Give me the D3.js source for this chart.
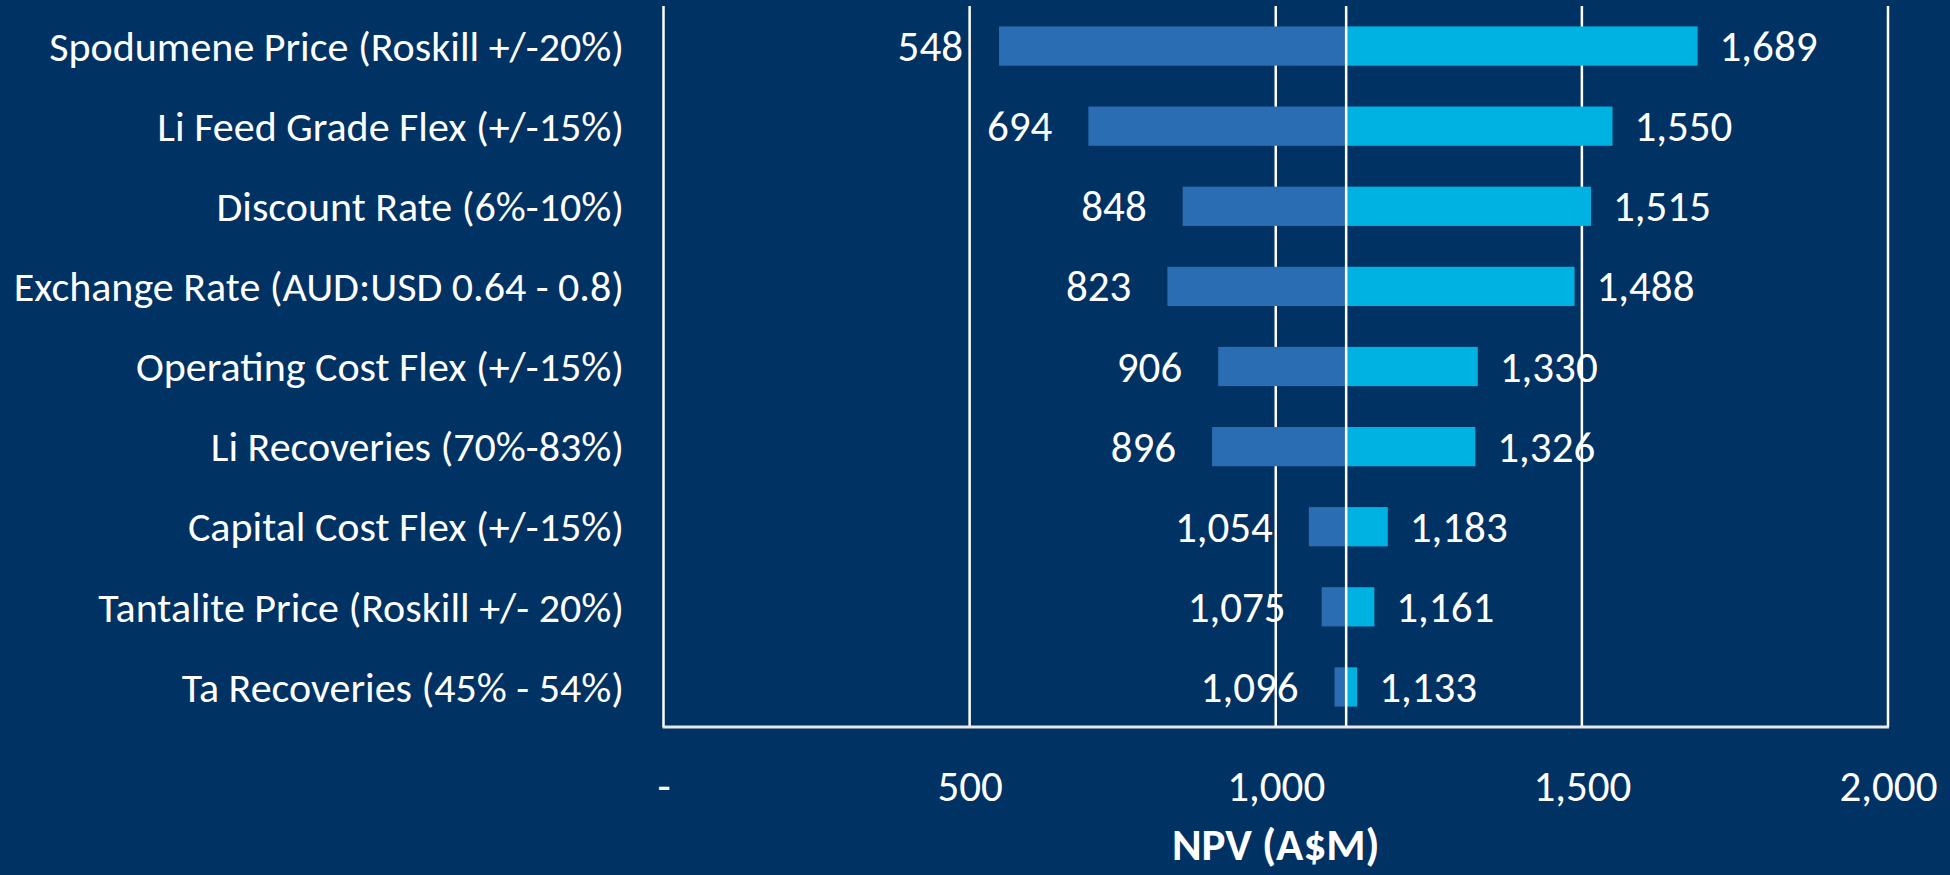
<!DOCTYPE html>
<html>
<head>
<meta charset="utf-8">
<script src="https://cdn.jsdelivr.net/npm/d3@7"></script>
<style>
  html, body { margin: 0; padding: 0; background: #003263; }
  svg { display: block; }
  text { font-family: Carlito, Calibri, "Open Sans", "Noto Sans", sans-serif; fill: #ffffff; }
</style>
</head>
<body>
<svg id="chart" width="1950" height="875"></svg>
<script>
// tornado data, NPV in A$M
var categories = [
    "Spodumene Price (Roskill +/-20%)",
    "Li Feed Grade Flex (+/-15%)",
    "Discount Rate (6%-10%)",
    "Exchange Rate (AUD:USD 0.64 - 0.8)",
    "Operating Cost Flex (+/-15%)",
    "Li Recoveries (70%-83%)",
    "Capital Cost Flex (+/-15%)",
    "Tantalite Price (Roskill +/- 20%)",
    "Ta Recoveries (45% - 54%)"
]
var lowValues = [548, 694, 848, 823, 906, 896, 1054, 1075, 1096]
var highValues = [1689, 1550, 1515, 1488, 1330, 1326, 1183, 1161, 1133]
var baseNPV = 1115
var xTicks = [0, 500, 1000, 1500, 2000]
var axisTitle = "NPV (A$M)"

const chart = {
    width: 1950,
    height: 875,
    margin_top: 6,
    margin_right: 62,
    margin_bottom: 148,
    margin_left: 663.5
}
const colors = { low: "#2A6DB2", high: "#00B2E2", line: "#ffffff" }

var svg = d3.select("#chart")
var plotBottom = chart.height - chart.margin_bottom

var xScale = d3.scaleLinear().domain([0, 2000]).range([chart.margin_left, chart.width - chart.margin_right])
var yScale = d3.scaleBand().domain(categories)
    .range([chart.margin_top, plotBottom])
    .paddingInner(0.51).paddingOuter(0.255)

var fmt = d3.format(",")

// gridlines (behind bars)
svg.append("g").selectAll("line")
    .data(xTicks)
    .join("line")
        .attr("x1", d => xScale(d)).attr("x2", d => xScale(d))
        .attr("y1", chart.margin_top).attr("y2", plotBottom)
        .attr("stroke", colors.line)
        .attr("stroke-width", 2.5)

var rows = categories.map((c, i) => ({ cat: c, low: lowValues[i], high: highValues[i] }))

// low side bars
svg.append("g").selectAll("rect")
    .data(rows)
    .join("rect")
        .attr("x", d => xScale(d.low))
        .attr("y", d => yScale(d.cat))
        .attr("width", d => xScale(baseNPV) - xScale(d.low))
        .attr("height", yScale.bandwidth())
        .attr("fill", colors.low)

// high side bars
svg.append("g").selectAll("rect")
    .data(rows)
    .join("rect")
        .attr("x", xScale(baseNPV))
        .attr("y", d => yScale(d.cat))
        .attr("width", d => xScale(d.high) - xScale(baseNPV))
        .attr("height", yScale.bandwidth())
        .attr("fill", colors.high)

// base case line on top of the bars
svg.append("line")
    .attr("x1", xScale(baseNPV)).attr("x2", xScale(baseNPV))
    .attr("y1", chart.margin_top).attr("y2", plotBottom)
    .attr("stroke", colors.line)
    .attr("stroke-width", 2.5)

// bottom axis line
svg.append("line")
    .attr("x1", xScale(0) - 1).attr("x2", xScale(2000) + 1)
    .attr("y1", plotBottom).attr("y2", plotBottom)
    .attr("stroke", "#e8e8e8")
    .attr("stroke-width", 3)

// category labels
svg.append("g").selectAll("text")
    .data(categories)
    .join("text")
        .attr("x", 624)
        .attr("y", d => yScale(d) + yScale.bandwidth() / 2)
        .attr("dy", "0.35em")
        .attr("text-anchor", "end")
        .style("font-size", "42px")
        .text(d => d)

// value labels
svg.append("g").selectAll("text")
    .data(rows)
    .join("text")
        .attr("x", d => xScale(d.low) - 36)
        .attr("y", d => yScale(d.cat) + yScale.bandwidth() / 2)
        .attr("dy", "0.35em")
        .attr("text-anchor", "end")
        .style("font-size", "43px")
        .text(d => fmt(d.low))

svg.append("g").selectAll("text")
    .data(rows)
    .join("text")
        .attr("x", d => xScale(d.high) + 22)
        .attr("y", d => yScale(d.cat) + yScale.bandwidth() / 2)
        .attr("dy", "0.35em")
        .attr("text-anchor", "start")
        .style("font-size", "43px")
        .text(d => fmt(d.high))

// x axis tick labels
var x_axis = svg.append("g")
    .attr("transform", "translate(0," + plotBottom + ")")
    .call(d3.axisBottom(xScale).tickValues(xTicks).tickSize(0).tickFormat(d => d === 0 ? "-" : fmt(d)))
x_axis.select(".domain").remove()
x_axis.selectAll("text")
    .attr("y", 59)
    .attr("dy", "0.35em")
    .style("font-size", "43px")
    .style("font-family", null)
    .attr("fill", "#ffffff")

svg.append("text")
    .attr("x", (xScale(0) + xScale(2000)) / 2)
    .attr("y", 844)
    .attr("dy", "0.35em")
    .attr("text-anchor", "middle")
    .style("font-size", "45px")
    .style("font-weight", "bold")
    .text(axisTitle)
</script>
</body>
</html>
